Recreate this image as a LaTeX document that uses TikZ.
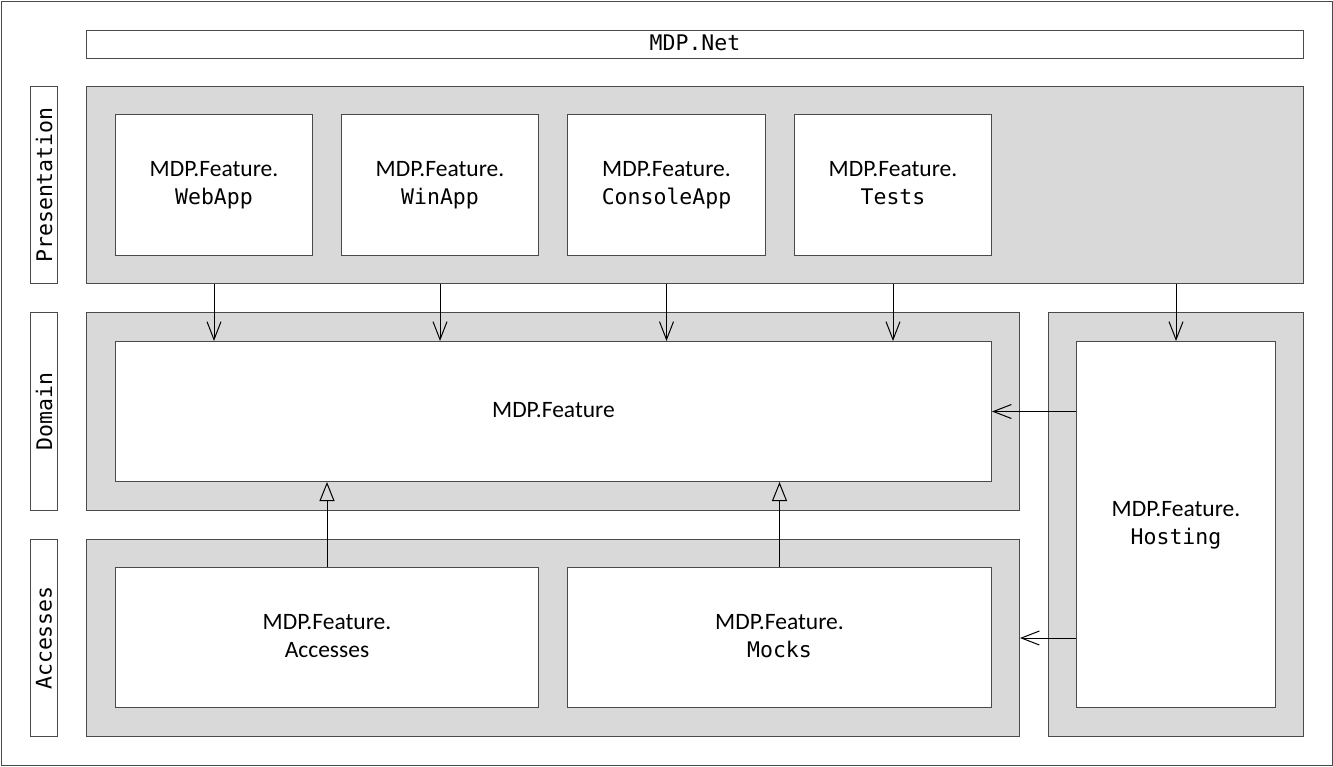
\documentclass[tikz,border=0pt]{standalone}
\usepackage{fontspec}
\setmainfont{Carlito}
\setmonofont{DejaVu Sans Mono}
\usetikzlibrary{arrows.meta,calc}
\definecolor{fillgray}{HTML}{D9D9D9}
\definecolor{edgegray}{HTML}{4A4A4A}
\newcommand{\mono}[1]{{\fontsize{21.5}{28}\selectfont\ttfamily #1}\strut}
\newcommand{\sans}[1]{{#1}\strut}
\tikzset{
  grayarea/.style={draw=edgegray, line width=1pt, fill=fillgray, anchor=north west, inner sep=0pt},
  whitebox/.style={draw=edgegray, line width=1pt, fill=white, anchor=north west, inner sep=0pt, align=center, font=\fontsize{23.5}{28}\selectfont},
  sidelabel/.style={draw=edgegray, line width=1pt, fill=white, anchor=north west, inner sep=0pt},
  sidetext/.style={rotate=90, font=\fontsize{21.5}{28}\selectfont\ttfamily},
  uses/.style={draw=black, line width=1pt, -{Straight Barb[length=18pt,width=14pt,line width=1pt]}},
  realizes/.style={draw=black, line width=1pt, -{Triangle[open,length=19pt,width=15pt,line width=1pt]}},
}
\begin{document}
\begin{tikzpicture}[x=1pt,y=-1pt]
\useasboundingbox (0,0) rectangle (1333,766);
\draw[edgegray, line width=1pt] (1,1) rectangle (1332,765);
% title
\node[whitebox, minimum width=1217pt, minimum height=27pt] (title) at (86,30) {\mono{MDP.Net}};
% side labels
\node[sidelabel, minimum width=27pt, minimum height=197pt] (lpres) at (30,86) {};
\node[sidetext] (tpres) at (lpres.center) {Presentation};
\node[sidelabel, minimum width=27pt, minimum height=198pt] (ldom) at (30,312) {};
\node[sidetext] (tdom) at (ldom.center) {Domain};
\node[sidelabel, minimum width=27pt, minimum height=197pt] (lacc) at (30,539) {};
\node[sidetext] (tacc) at (lacc.center) {Accesses};
% gray areas
\node[grayarea, minimum width=1217pt, minimum height=197pt] (pres) at (86,86) {};
\node[grayarea, minimum width=933pt, minimum height=198pt] (dom) at (86,312) {};
\node[grayarea, minimum width=933pt, minimum height=197pt] (acc) at (86,539) {};
\node[grayarea, minimum width=255pt, minimum height=424pt] (host) at (1048,312) {};
% presentation boxes
\node[whitebox, minimum width=197pt, minimum height=141pt] (web) at (115,114) {\sans{MDP.Feature.}\\\mono{WebApp}};
\node[whitebox, minimum width=197pt, minimum height=141pt] (win) at (341,114) {\sans{MDP.Feature.}\\\mono{WinApp}};
\node[whitebox, minimum width=198pt, minimum height=141pt] (con) at (567,114) {\sans{MDP.Feature.}\\\mono{ConsoleApp}};
\node[whitebox, minimum width=197pt, minimum height=141pt] (tst) at (794,114) {\sans{MDP.Feature.}\\\mono{Tests}};
% domain
\node[whitebox, minimum width=876pt, minimum height=140pt] (feat) at (115,341) {\sans{MDP.Feature}};
% hosting
\node[whitebox, minimum width=199pt, minimum height=366pt] (hbox) at (1076,341) {\sans{MDP.Feature.}\\\mono{Hosting}};
% accesses
\node[whitebox, minimum width=423pt, minimum height=140pt] (accbox) at (115,567) {\sans{MDP.Feature.}\\\sans{Accesses}};
\node[whitebox, minimum width=424pt, minimum height=140pt] (mock) at (567,567) {\sans{MDP.Feature.}\\\mono{Mocks}};
% arrows down
\draw[uses] (web.south |- pres.south) -- (web.south |- feat.north);
\draw[uses] (win.south |- pres.south) -- (win.south |- feat.north);
\draw[uses] (con.south |- pres.south) -- (con.south |- feat.north);
\draw[uses] (tst.south |- pres.south) -- (tst.south |- feat.north);
\draw[uses] (hbox.north |- pres.south) -- (hbox.north);
% hosting arrows
\draw[uses] (hbox.west |- feat.east) -- (feat.east);
\draw[uses] (hbox.west |- acc.east) -- (acc.east);
% realization arrows
\draw[realizes] (accbox.north) -- (accbox.north |- feat.south);
\draw[realizes] (mock.north) -- (mock.north |- feat.south);
\end{tikzpicture}
\end{document}
